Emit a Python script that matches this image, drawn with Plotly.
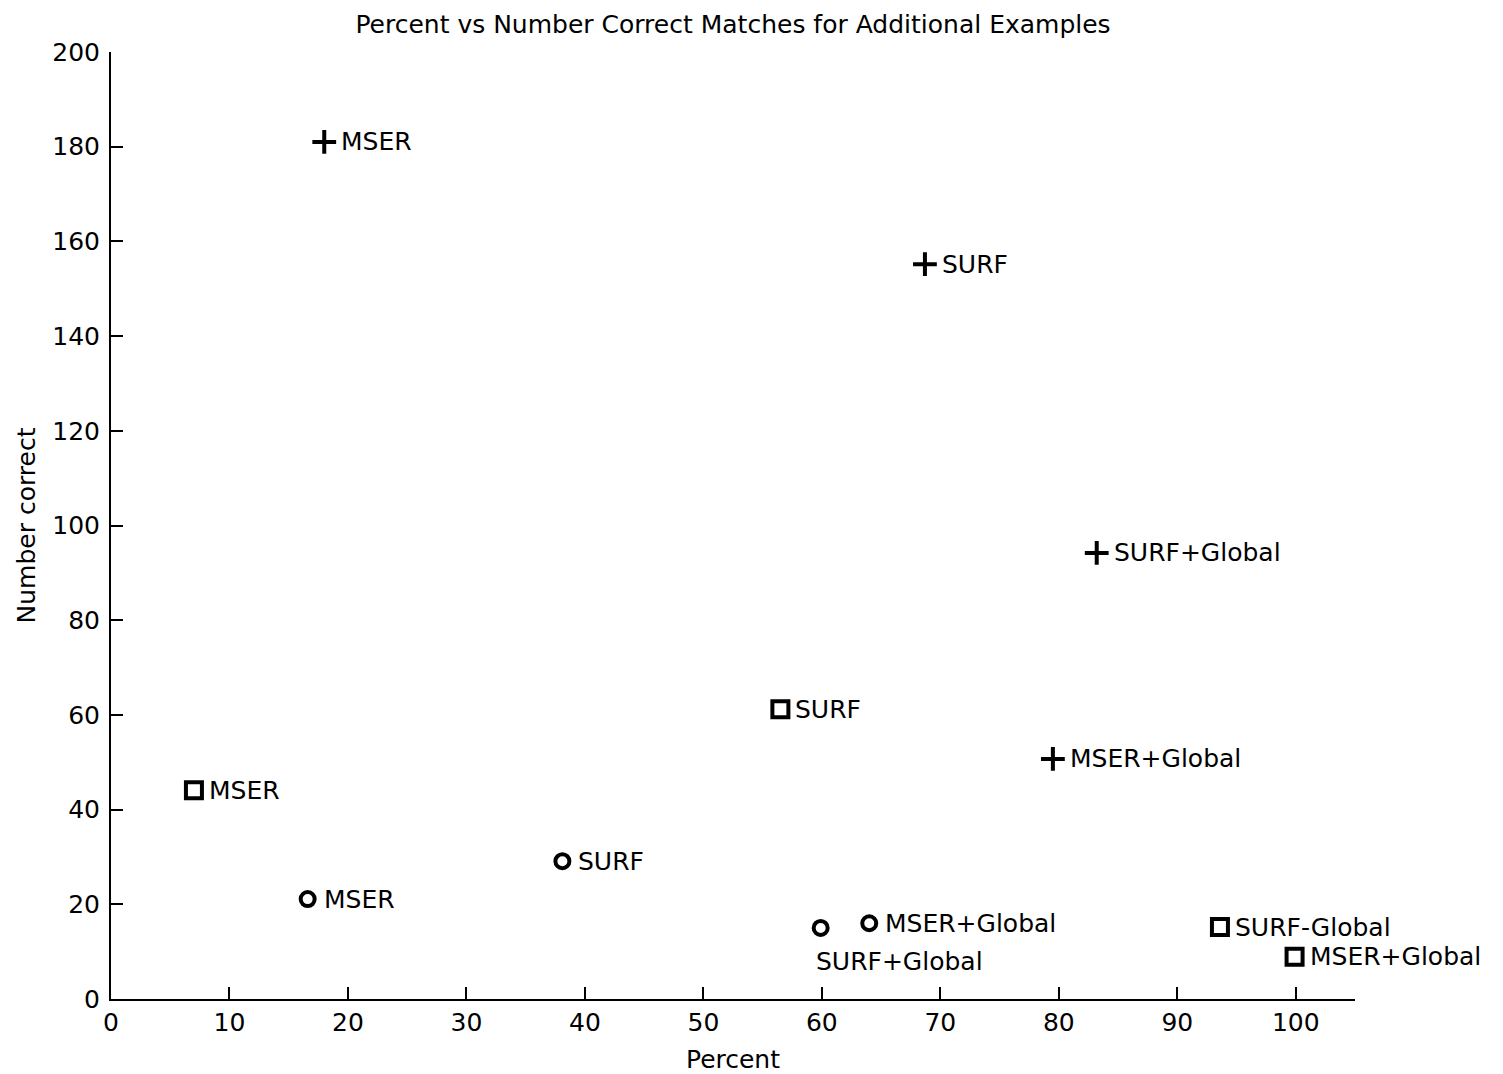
import plotly.graph_objects as go

# Plus markers
plus_x = [18.0, 68.7, 83.2, 79.5]
plus_y = [181.0, 155.2, 94.2, 50.7]
plus_labels = ["MSER", "SURF", "SURF+Global", "MSER+Global"]

# Square markers
sq_x = [56.5, 7.0, 93.6, 99.9]
sq_y = [61.2, 44.1, 15.2, 8.9]
sq_labels = ["SURF", "MSER", "SURF-Global", "MSER+Global"]

# Circle markers
circ_x = [38.1, 16.6, 64.0, 59.9]
circ_y = [29.1, 21.1, 16.0, 15.0]
circ_labels = ["SURF", "MSER", "MSER+Global", "SURF+Global"]
# label placement: "right" or "below"
circ_place = ["right", "right", "right", "below"]

x_ticks = list(range(0, 101, 10))
y_ticks = list(range(0, 201, 20))

FONT = "DejaVu Sans"
FS = 25
W, H = 1495, 1066

fig = go.Figure()

fig.add_trace(go.Scatter(x=plus_x, y=plus_y, mode="markers",
                         marker=dict(symbol="cross-thin-open", size=17, color="black",
                                     line=dict(color="black", width=4)),
                         showlegend=False, hoverinfo="skip"))
fig.add_trace(go.Scatter(x=sq_x, y=sq_y, mode="markers",
                         marker=dict(symbol="square-open", size=16, color="black",
                                     line=dict(color="black", width=4)),
                         showlegend=False, hoverinfo="skip"))
fig.add_trace(go.Scatter(x=circ_x, y=circ_y, mode="markers",
                         marker=dict(symbol="circle-open", size=14, color="black",
                                     line=dict(color="black", width=4)),
                         showlegend=False, hoverinfo="skip"))

annotations = []
def add_labels(xs, ys, labels, shift, places=None):
    for i, (x, y, t) in enumerate(zip(xs, ys, labels)):
        p = places[i] if places else "right"
        if p == "right":
            annotations.append(dict(x=x, y=y, text=t, xref="x", yref="y",
                                    showarrow=False, xanchor="left", yanchor="middle",
                                    xshift=shift, font=dict(family=FONT, size=FS, color="black")))
        else:
            annotations.append(dict(x=x, y=y, text=t, xref="x", yref="y",
                                    showarrow=False, xanchor="left", yanchor="middle",
                                    xshift=-7, yshift=-34,
                                    font=dict(family=FONT, size=FS, color="black")))

add_labels(plus_x, plus_y, plus_labels, 15)
add_labels(sq_x, sq_y, sq_labels, 13)
add_labels(circ_x, circ_y, circ_labels, 14, circ_place)

fig.update_layout(
    width=W, height=H,
    paper_bgcolor="white", plot_bgcolor="white",
    margin=dict(l=103, r=148, t=44, b=75, autoexpand=False),
    font=dict(family=FONT, size=FS, color="black"),
    title=dict(text="Percent vs Number Correct Matches for Additional Examples",
               x=725 / W, xanchor="center", y=1 - 16 / H, yanchor="middle",
               font=dict(family=FONT, size=FS, color="black")),
    annotations=annotations,
)
fig.update_xaxes(range=[0, 105], tickvals=x_ticks, ticktext=[str(v) for v in x_ticks],
                 ticks="inside", ticklen=12, tickwidth=2, tickcolor="black",
                 showline=True, linewidth=2, linecolor="black", mirror=False,
                 showgrid=False, zeroline=False, automargin=False,
                 title=dict(text="Percent", standoff=14, font=dict(family=FONT, size=FS)),
                 tickfont=dict(family=FONT, size=FS))
fig.update_yaxes(range=[0, 200], tickvals=y_ticks, ticktext=[str(v) for v in y_ticks],
                 ticks="inside", ticklen=12, tickwidth=2, tickcolor="black",
                 showline=True, linewidth=2, linecolor="black", mirror=False,
                 showgrid=False, zeroline=False, automargin=False,
                 ticklabelstandoff=4,
                 title=dict(text="Number correct", standoff=10, font=dict(family=FONT, size=FS)),
                 tickfont=dict(family=FONT, size=FS))

fig.write_html("out.html")
